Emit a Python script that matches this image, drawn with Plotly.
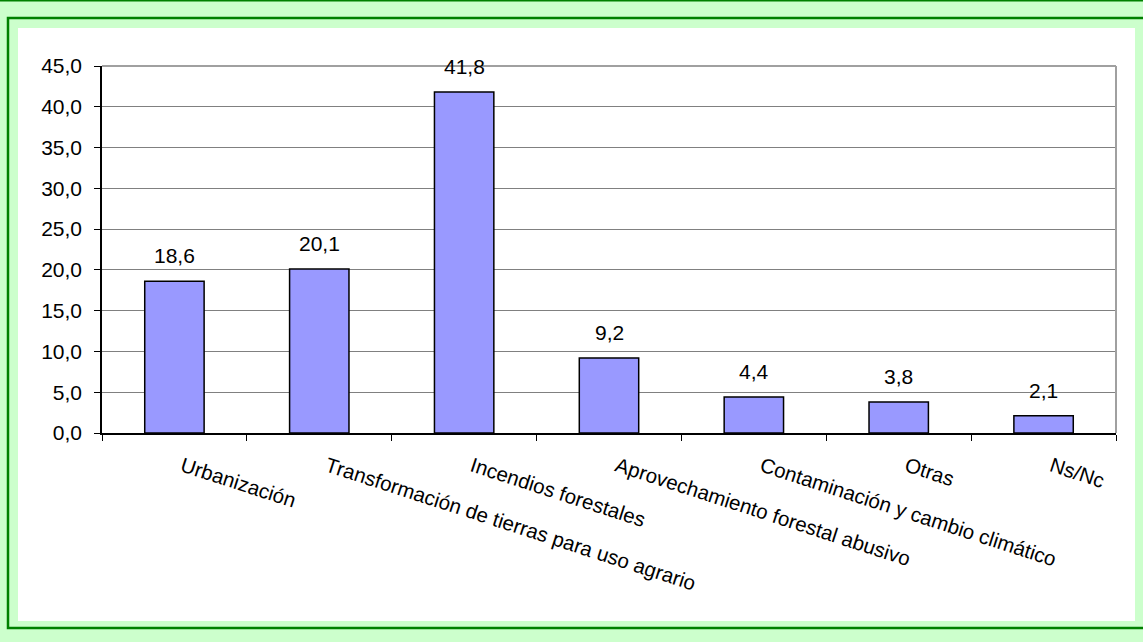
import plotly.graph_objects as go

categories = [
    "Urbanización",
    "Transformación de tierras para uso agrario",
    "Incendios forestales",
    "Aprovechamiento forestal abusivo",
    "Contaminación y cambio climático",
    "Otras",
    "Ns/Nc",
]
values = [18.6, 20.1, 41.8, 9.2, 4.4, 3.8, 2.1]
y_ticks = [0, 5, 10, 15, 20, 25, 30, 35, 40, 45]
y_tick_labels = ["0,0", "5,0", "10,0", "15,0", "20,0", "25,0", "30,0", "35,0", "40,0", "45,0"]

W, H = 1143, 642
L, R, T, B = 102, 1116, 66, 433
FONT = "Liberation Sans, Arial, sans-serif"


def px(x):
    return (x - L) / (R - L)


def py(y):
    return (B - y) / (B - T)


fig = go.Figure()
fig.add_trace(go.Bar(
    x=categories,
    y=values,
    marker=dict(color="#9999FF", line=dict(color="#000000", width=1.5)),
    hoverinfo="x+y",
))

annotations = []
for c, v in zip(categories, values):
    annotations.append(dict(
        x=c, y=v, xref="x", yref="y",
        text=f"{v:.1f}".replace(".", ","),
        showarrow=False, yanchor="bottom", yshift=12,
        font=dict(family=FONT, size=21, color="#000000"),
    ))

shapes = [
    # top dark green line of outer frame
    dict(type="line", xref="paper", yref="paper", x0=px(0), x1=px(W), y0=py(0.5), y1=py(0.5),
         line=dict(color="#008000", width=2), layer="below"),
    # inner green frame
    dict(type="rect", xref="paper", yref="paper", x0=px(8), x1=px(W + 10), y0=py(18), y1=py(628),
         line=dict(color="#008000", width=2.5), fillcolor="#CCFFCC", layer="below"),
    # white chart area
    dict(type="rect", xref="paper", yref="paper", x0=px(18), x1=px(1135), y0=py(28), y1=py(621),
         line=dict(width=0), fillcolor="#FFFFFF", layer="below"),
    # plot area top & right borders
    dict(type="line", xref="paper", yref="paper", x0=0, x1=1, y0=1, y1=1,
         line=dict(color="#A0A0A0", width=2)),
    dict(type="line", xref="paper", yref="paper", x0=1, x1=1, y0=0, y1=1,
         line=dict(color="#A0A0A0", width=2)),
]

fig.update_layout(
    width=W, height=H,
    margin=dict(l=L, r=W - R, t=T, b=H - B),
    paper_bgcolor="#CCFFCC",
    plot_bgcolor="rgba(0,0,0,0)",
    showlegend=False,
    bargap=0.59,
    font=dict(family=FONT, size=20, color="#000000"),
    shapes=shapes,
    annotations=annotations,
    xaxis=dict(
        showline=True, linecolor="#000000", linewidth=1.5,
        ticks="outside", ticklen=6, tickcolor="#000000", tickwidth=1,
        tickson="boundaries", tickangle=18,
        tickfont=dict(family=FONT, size=20.5, color="#000000"),
        ticklabelstandoff=12, ticklabelshift=8,
        showgrid=False, fixedrange=True,
    ),
    yaxis=dict(
        range=[0, 45], tickvals=y_ticks, ticktext=y_tick_labels,
        showline=True, linecolor="#000000", linewidth=1.5,
        ticks="outside", ticklen=6, tickcolor="#000000", tickwidth=1,
        showgrid=True, gridcolor="#808080", gridwidth=1,
        zeroline=False,
        tickfont=dict(family=FONT, size=21, color="#000000"),
        ticklabelstandoff=8, fixedrange=True,
    ),
)

fig.write_html("out.html")
